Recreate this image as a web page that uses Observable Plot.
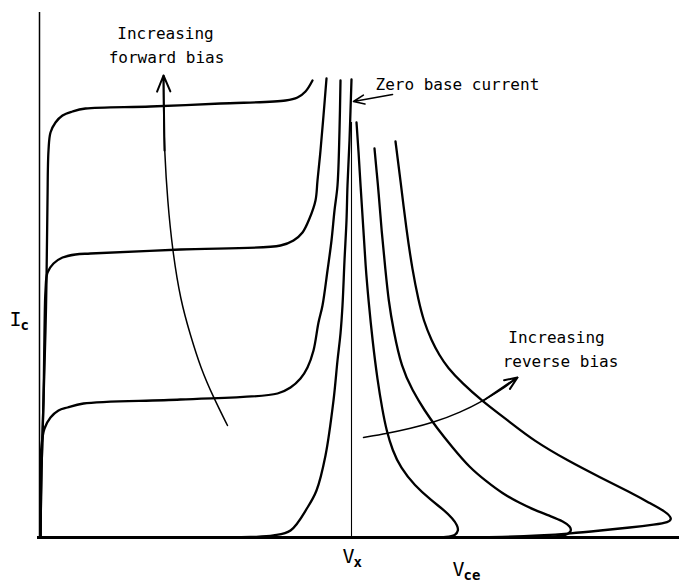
<!DOCTYPE html>
<html><head><meta charset="utf-8">
<script src="https://cdn.jsdelivr.net/npm/d3@7"></script>
<script src="https://cdn.jsdelivr.net/npm/@observablehq/plot@0.6"></script>
<style>html,body{margin:0;padding:0;background:#fff;} #chart svg{display:block;}</style>
</head><body><div id="chart"></div>
<script>
// Characteristic curves: [Vce, Ic] in arbitrary units
const forward1 = [[0.1,0],[0.2,6.7],[0.4,13.7],[0.6,20.7],[0.7,25.7],[0.8,33.7],[0.9,38.7],[1.1,40.5],[1.6,41.5],[2.3,42.2],[3.3,42.6],[4.6,42.9],[11.1,43.1],[18.1,43.4],[24.6,43.7],[25.8,44.0],[26.6,44.6],[27.3,45.7]];
const forward2 = [[0.1,0],[0.2,6.7],[0.4,13.7],[0.5,20.7],[0.6,24.7],[0.8,26.5],[1.4,27.4],[2.3,28],[3.6,28.3],[5.1,28.4],[14.1,28.8],[24.1,29.2],[25.4,29.7],[26.3,30.5],[27.0,31.9],[27.6,33.7],[27.8,35.7],[28.1,38.7],[28.4,42.2],[28.7,45.9]];
const forward3 = [[0.1,0],[0.1,6.7],[0.2,9.2],[0.5,10.9],[1.1,12],[1.9,12.7],[2.8,13],[4.4,13.4],[14.1,13.8],[23.8,14.4],[25.1,15],[26.1,15.9],[26.8,17],[27.4,18.7],[27.9,21.5],[28.3,23.2],[28.8,26.7],[29.2,29.7],[29.5,32.7],[29.8,35.2],[30.0,40.7],[30.1,45.7]];
const zeroBase = [[0.1,0],[11.1,0],[21.1,0.05],[23.4,0.2],[25.1,0.7],[26.8,3],[27.7,4.7],[28.6,8.2],[29.4,13.7],[29.8,17.7],[30.1,20.4],[30.3,23.2],[30.5,27.7],[30.7,31.7],[30.8,35.2],[31.0,39.7],[31.1,42.7],[31.2,45.8]];
const reverse1 = [[31.7,41.5],[31.9,38.7],[32.1,35.2],[32.4,30.7],[32.6,27.2],[32.9,23.7],[33.3,19.7],[33.8,15.7],[34.3,12.7],[34.7,10.7],[35.3,8.7],[36.1,7.0],[37.5,5.2],[39.2,3.7],[40.5,2.7],[41.3,1.9],[41.8,1.2],[41.9,0.7],[41.6,0.2],[40.8,0.05],[39.1,0]];
const reverse2 = [[33.5,38.9],[33.7,36.7],[33.9,34.7],[34.2,30.7],[34.6,26.7],[34.9,23.7],[35.4,20.7],[36.2,17],[37.3,14.7],[38.5,12.7],[39.7,11],[41.3,9],[43,7],[44.7,5.6],[46.3,4.4],[47.9,3.5],[49.6,2.7],[51.2,2.1],[52.4,1.6],[53.1,1.1],[53.2,0.6],[52.7,0.2],[51.1,0.05],[47.1,0]];
const reverse3 = [[35.6,39.6],[36.1,35.7],[36.7,30.7],[37.3,26.7],[37.9,23.7],[38.4,21.7],[39.2,19.7],[40.0,18.2],[40.8,17.0],[42.3,15.4],[44.2,13.7],[47.1,11.5],[49.4,9.7],[52.8,7.7],[56.1,6],[59.1,4.5],[61.1,3.4],[62.6,2.6],[63.3,1.9],[62.9,1.5],[61.6,1.3],[59.1,1.0],[56.1,0.7],[53.1,0.4],[50.1,0.2],[46.1,0.05],[43.1,0]];
const vx = 31.2;
const vxTop = 41.5;

// Annotation arrows
const forwardArrow = [[18.8,11.2],[17.4,14],[16.1,17],[15.1,20.2],[14.1,23.7],[13.3,28.7],[12.8,33.7],[12.5,38.7],[12.4,42.7],[12.4,46.2]];
const reverseArrow = [[32.4,10],[34.8,10.4],[37.1,10.9],[39.4,11.5],[42.1,12.5],[44.4,13.7],[46.1,14.7],[47.4,15.7],[47.8,16.0]];
const zeroArrow = [[35.3,44.3],[31.4,43.6]];

// Text annotations
const centredLabels = [
  {text: "Increasing", x: 12.6, y: 49.9},
  {text: "forward bias", x: 12.7, y: 47.5},
  {text: "Increasing", x: 51.7, y: 19.5},
  {text: "reverse bias", x: 52.1, y: 17.1}
];
const leftLabels = [
  {text: "Zero base current", x: 33.6, y: 44.8}
];
const axisLabels = [
  {main: "I", sub: "c", x: -2.4, y: 21.2},
  {main: "V", sub: "x", x: 30.9, y: -2.5},
  {main: "V", sub: "ce", x: 41.9, y: -3.8}
];

const curves = [forward1, forward2, forward3, zeroBase, reverse1, reverse2, reverse3];
const font = "DejaVu Sans Mono";
const seg = (pts, k) => ({x1: pts[pts.length - 1 - k][0], y1: pts[pts.length - 1 - k][1], x2: pts[pts.length - 1][0], y2: pts[pts.length - 1][1]});

const chart = Plot.plot({
  width: 679, height: 582,
  marginLeft: 39, marginRight: 0, marginTop: 0, marginBottom: 45,
  x: {domain: [0, 64], axis: null},
  y: {domain: [0, 53.7], axis: null},
  style: {background: "white", overflow: "visible"},
  marks: [
    Plot.ruleX([0], {y1: 0, y2: 52.5, stroke: "black", strokeWidth: 1.5}),
    Plot.ruleY([0], {x1: -0.2, x2: 64, stroke: "black", strokeWidth: 3}),
    Plot.ruleX([vx], {y1: 0, y2: vxTop, stroke: "black", strokeWidth: 1.1}),
    ...curves.map((c, i) => Plot.line(c, {x: d => d[0], y: d => d[1], curve: i < 4 ? "catmull-rom" : "basis", stroke: "black", strokeWidth: 2.3})),
    Plot.line(forwardArrow, {x: d => d[0], y: d => d[1], curve: "basis", stroke: "black", strokeWidth: 1.5}),
    Plot.line(reverseArrow, {x: d => d[0], y: d => d[1], curve: "basis", stroke: "black", strokeWidth: 1.5}),
    Plot.arrow([seg(forwardArrow, 2)], {x1: "x1", y1: "y1", x2: "x2", y2: "y2", stroke: "black", strokeWidth: 2, headLength: 13, headAngle: 45}),
    Plot.arrow([seg(reverseArrow, 3)], {x1: "x1", y1: "y1", x2: "x2", y2: "y2", stroke: "black", strokeWidth: 2, headLength: 13, headAngle: 45}),
    Plot.arrow([seg(zeroArrow, 1)], {x1: "x1", y1: "y1", x2: "x2", y2: "y2", stroke: "black", strokeWidth: 1.6, headLength: 11, headAngle: 45}),
    Plot.text(centredLabels, {x: "x", y: "y", text: "text", textAnchor: "middle", lineAnchor: "bottom", fontFamily: font, fontSize: 16, fill: "black"}),
    Plot.text(leftLabels, {x: "x", y: "y", text: "text", textAnchor: "start", lineAnchor: "bottom", fontFamily: font, fontSize: 16, fill: "black"}),
    Plot.text(axisLabels, {x: "x", y: "y", text: "main", textAnchor: "middle", lineAnchor: "bottom", fontFamily: font, fontSize: 20, fill: "black"}),
    Plot.text(axisLabels, {x: "x", y: "y", text: "sub", textAnchor: "start", lineAnchor: "bottom", dx: 5, dy: 4, fontFamily: font, fontSize: 14, fontWeight: "bold", fill: "black"})
  ]
});
document.getElementById("chart").append(chart);
</script>
</body></html>
